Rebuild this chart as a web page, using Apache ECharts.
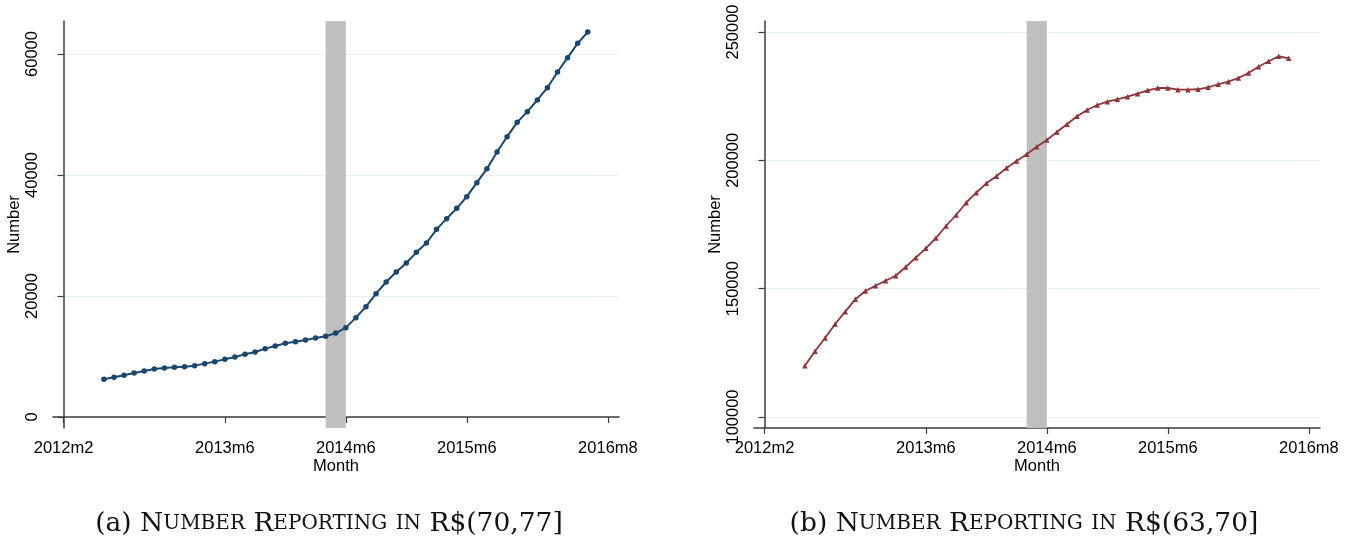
<!DOCTYPE html>
<html>
<head>
<meta charset="utf-8">
<script src="https://cdn.jsdelivr.net/npm/echarts@6/dist/echarts.min.js"></script>
<style>html,body{margin:0;padding:0;background:#fff}#c{width:1353px;height:540px}</style>
</head>
<body>
<div id="c"></div>
<script>
// month index: 0 = 2012m2
const months = [4,5,6,7,8,9,10,11,12,13,14,15,16,17,18,19,20,21,22,23,24,25,26,27,28,29,30,31,32,33,34,35,36,37,38,39,40,41,42,43,44,45,46,47,48,49,50,51,52];
const valuesA = [6230,6560,6890,7270,7600,7930,8100,8210,8320,8490,8820,9150,9530,9920,10360,10740,11300,11740,12180,12450,12730,13060,13330,13880,14770,16420,18240,20390,22310,23970,25460,27220,28760,31020,32780,34490,36420,38730,41050,43800,46340,48700,50470,52400,54430,57030,59390,61760,63640];
const valuesB = [119990,125600,130780,136230,141030,145850,149090,151160,153100,155050,158440,162070,165730,169740,174420,178700,183490,187390,191050,193780,197010,199740,202350,205310,207920,211040,214040,217160,219610,221560,222860,223790,224800,225970,227270,228180,228180,227530,227530,227690,228470,229640,230650,232090,234040,236490,238600,240550,239770];
const xTickMonths = [0,16,28,40,54];
const yTicksA = [0,20000,40000,60000];
const yTicksB = [100000,150000,200000,250000];
const shadeMonths = [26,28];
const captionA = '(a) {c|N}{s|UMBER} {c|R}{s|EPORTING} {s|IN} R$(70,77]';
const captionB = '(b) {c|N}{s|UMBER} {c|R}{s|EPORTING} {s|IN} R$(63,70]';

function monthLabel(m){
  const k = Math.round(m) + 1;
  return (2012 + Math.floor(k/12)) + 'm' + (k % 12 + 1);
}
const FONT = 'Liberation Sans, Arial, sans-serif';
const SERIF = 'DejaVu Serif, Liberation Serif, serif';
const axisCol = '#3c3c3c';
const gridCol = '#e8f0f4';

function xAxis(i){
  return {
    type:'value', gridIndex:i, min:-1.05, max:55.1,
    name:'Month', nameLocation:'middle', nameGap:30, nameMoveOverlap:false,
    nameTextStyle:{fontSize:16.5, color:'#000', fontFamily:FONT},
    axisLine:{show:true, lineStyle:{color:axisCol, width:1.5}},
    axisTick:{show:true, length:6, customValues:xTickMonths, lineStyle:{color:axisCol, width:1.2}},
    axisLabel:{customValues:xTickMonths, formatter:monthLabel, fontSize:16.5, color:'#000', fontFamily:FONT, margin:12},
    splitLine:{show:false}
  };
}
function yAxis(i, min, max, ticks){
  return {
    type:'value', gridIndex:i, min:min, max:max,
    name:'Number', nameLocation:'middle', nameGap:28, nameRotate:90,
    nameTextStyle:{fontSize:16.5, color:'#000', fontFamily:FONT},
    axisLine:{show:true, lineStyle:{color:axisCol, width:1.5}},
    axisTick:{show:true, length:6, customValues:ticks, lineStyle:{color:axisCol, width:1.2}},
    axisLabel:{customValues:ticks, rotate:90, formatter:(v)=>String(Math.round(v)), fontSize:16.5, color:'#000', fontFamily:FONT, margin:12},
    splitLine:{show:true, lineStyle:{color:gridCol, width:1.2}}
  };
}
function series(i, vals, color, symbol, size, width){
  return {
    type:'line', xAxisIndex:i, yAxisIndex:i,
    data: months.map((m,j)=>[m, vals[j]]),
    symbol:symbol, symbolSize:size, showSymbol:true,
    lineStyle:{color:color, width:width},
    itemStyle:{color:color},
    animation:false, z:5,
    markArea:{silent:true, itemStyle:{color:'#bfbfbf', opacity:1},
      data:[[{xAxis:shadeMonths[0]},{xAxis:shadeMonths[1]}]]}
  };
}
const richCap = {
  c:{fontSize:26.5, fontFamily:SERIF, color:'#111'},
  s:{fontSize:20, fontFamily:SERIF, color:'#111'}
};
const chart = echarts.init(document.getElementById('c'), null, {renderer:'canvas'});
chart.setOption({
  backgroundColor:'#fff',
  animation:false,
  grid:[
    {left:53, right:734, top:21, bottom:112},
    {left:754, right:33, top:21, bottom:112}
  ],
  xAxis:[xAxis(0), xAxis(1)],
  yAxis:[yAxis(0,-1818,65454,yTicksA), yAxis(1,95713,254287,yTicksB)],
  series:[
    series(0, valuesA, '#1a476f', 'circle', 5.5, 2),
    series(1, valuesB, '#90353b', 'triangle', 5.5, 1.8)
  ],
  graphic:[
    {type:'text', x:329, y:524, style:{text:captionA, rich:richCap, align:'center', verticalAlign:'middle', fontSize:26.5, fontFamily:SERIF, fill:'#111'}},
    {type:'text', x:1024, y:524, style:{text:captionB, rich:richCap, align:'center', verticalAlign:'middle', fontSize:26.5, fontFamily:SERIF, fill:'#111'}}
  ]
});
</script>
</body>
</html>
